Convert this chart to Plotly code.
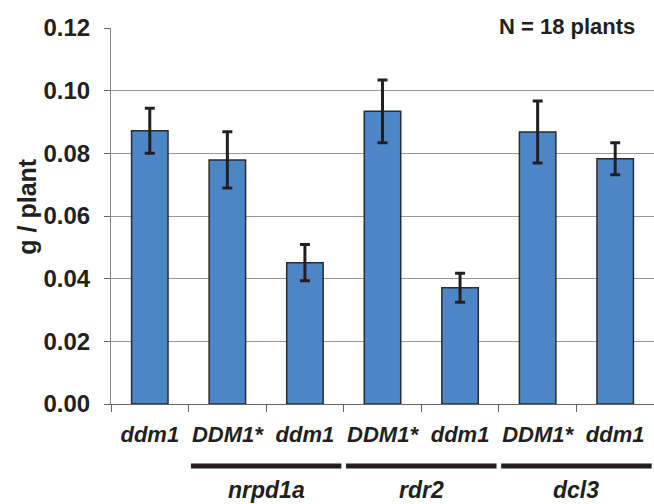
import plotly.graph_objects as go

# ---- data ----
genotypes = ["ddm1", "DDM1*", "ddm1", "DDM1*", "ddm1", "DDM1*", "ddm1"]
backgrounds = ["", "nrpd1a", "nrpd1a", "rdr2", "rdr2", "dcl3", "dcl3"]
weight_g = [0.0872, 0.0779, 0.0451, 0.0934, 0.0371, 0.0868, 0.0783]
error_g = [0.0072, 0.0090, 0.0058, 0.0100, 0.0046, 0.0099, 0.0051]
y_ticks = [0.00, 0.02, 0.04, 0.06, 0.08, 0.10, 0.12]
y_title = "g / plant"
note = "N = 18 plants"

FONT = "Liberation Sans, Arial, sans-serif"
INK = "#231f20"

ids = [f"{b}|{g}|{i}" for i, (b, g) in enumerate(zip(backgrounds, genotypes))]

fig = go.Figure()
fig.add_trace(go.Bar(
    x=ids, y=weight_g,
    marker=dict(color="#4c86c6", line=dict(color="#2b2b2b", width=1.5)),
    error_y=dict(type="data", array=error_g, color=INK, thickness=3, width=5),
    width=0.47,
))

# group underlines and labels
shapes = []
annotations = []
seen = []
for b in backgrounds:
    if b and b not in seen:
        seen.append(b)
for b in seen:
    idx = [i for i, v in enumerate(backgrounds) if v == b]
    x0 = idx[0] - 0.5 + 0.03
    x1 = idx[-1] + 0.5 - 0.03
    shapes.append(dict(type="line", xref="x", yref="paper", x0=x0, x1=x1,
                       y0=-0.165, y1=-0.165, line=dict(color=INK, width=5)))
    annotations.append(dict(x=(idx[0] + idx[-1]) / 2, y=-0.228, xref="x", yref="paper",
                            text=b, showarrow=False, xanchor="center", yanchor="middle",
                            font=dict(family=FONT, size=23, color=INK, weight="bold", style="italic")))

annotations.append(dict(x=0.84, y=1.005, xref="paper", yref="paper", text=note,
                        showarrow=False, xanchor="center", yanchor="middle",
                        font=dict(family=FONT, size=22, color=INK, weight="bold")))
annotations.append(dict(x=-0.155, y=0.527, xref="paper", yref="paper", text=y_title,
                        showarrow=False, textangle=-90, xanchor="center", yanchor="middle",
                        font=dict(family=FONT, size=25, color=INK, weight="bold")))

fig.update_layout(
    width=654, height=504,
    margin=dict(l=111, r=0, t=28, b=100),
    paper_bgcolor="white", plot_bgcolor="white",
    showlegend=False,
    bargap=0.53,
    shapes=shapes,
    annotations=annotations,
    xaxis=dict(
        type="category", range=[-0.5, 6.5], automargin=False,
        tickvals=ids, ticktext=genotypes, tickangle=0,
        tickson="boundaries", ticks="outside", ticklen=7, tickcolor="#666", tickwidth=1,
        showline=True, linecolor="#666", linewidth=1.2,
        showgrid=False,
        ticklabelstandoff=10,
        tickfont=dict(family=FONT, size=22, color=INK, weight="bold", style="italic"),
    ),
    yaxis=dict(
        range=[0, 0.12], automargin=False,
        tickvals=y_ticks, ticktext=[f"{v:.2f}" for v in y_ticks],
        ticks="outside", ticklen=6, tickcolor="#666", tickwidth=1,
        showline=True, linecolor="#888", linewidth=1,
        showgrid=True, gridcolor="#999", gridwidth=1,
        zeroline=False,
        ticklabelstandoff=9,
        tickfont=dict(family=FONT, size=24, color=INK, weight="bold"),
    ),
)

fig.write_html("out.html", config={"displayModeBar": False},
               post_script="document.body.style.margin='0';document.body.style.overflow='hidden';")
